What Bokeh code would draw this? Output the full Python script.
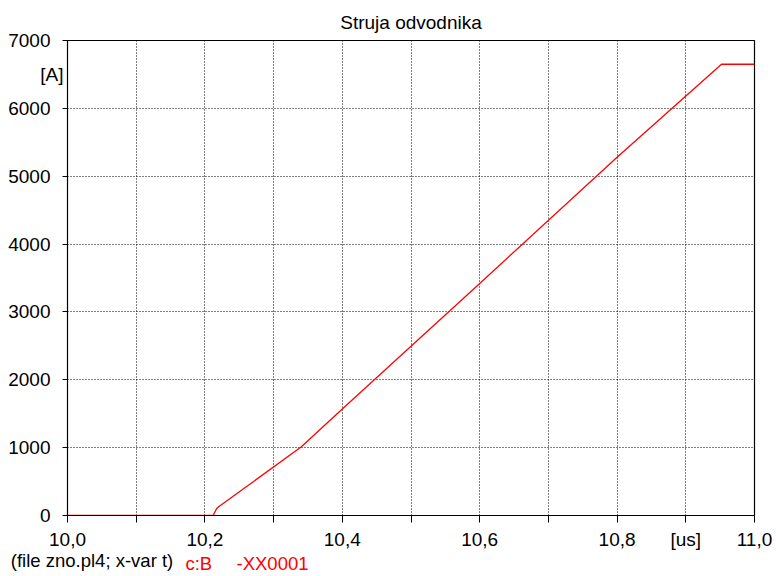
from bokeh.plotting import figure
from bokeh.models import FixedTicker, LinearAxis, ColumnDataSource
from bokeh.embed import file_html
from bokeh.resources import INLINE

# Arrester current vs time
t_us = [10.0, 10.212, 10.217, 10.220, 10.223, 10.34, 10.4, 10.6, 10.8, 10.952, 11.0]
i_a = [0, 0, 100, 130, 150, 1010, 1570, 3420, 5280, 6650, 6650]

x_ticks = [10.0, 10.1, 10.2, 10.3, 10.4, 10.5, 10.6, 10.7, 10.8, 10.9, 11.0]
x_tick_labels = ["10,0", "", "10,2", "", "10,4", "", "10,6", "", "10,8", "[us]", "11,0"]
y_ticks = [0, 1000, 2000, 3000, 4000, 5000, 6000, 7000]
y_tick_labels = ["0", "1000", "2000", "3000", "4000", "5000", "6000", "7000"]

# unit label of the current axis and the footer texts (anchored on the time axis)
y_unit_pos = [6500]
y_unit_text = ["[A]"]
foot_black_pos = [10.0357]
foot_black_text = ["(file zno.pl4; x-var t)"]
foot_red_pos = [10.1912, 10.2984]
foot_red_text = ["c:B", "-XX0001"]

FONT = "Liberation Sans"

p = figure(width=776, height=576, output_backend="svg", toolbar_location=None,
           x_range=(10.0, 11.0), y_range=(0, 7000),
           min_border_left=67, min_border_right=22, min_border_top=40, min_border_bottom=60)

p.title.text = "Struja odvodnika"
p.title.align = "center"
p.title.text_font = FONT
p.title.text_font_size = "19px"
p.title.text_font_style = "normal"
p.title.text_color = "black"
p.title.standoff = 16

p.background_fill_color = "white"
p.border_fill_color = "white"
p.outline_line_color = "black"
p.outline_line_width = 1.2

src = ColumnDataSource(data=dict(t=t_us, i=i_a))
p.line("t", "i", source=src, line_color="red", line_width=1.3)

for ax in (p.xaxis[0], p.yaxis[0]):
    ax.axis_line_color = "black"
    ax.major_tick_line_color = "black"
    ax.minor_tick_line_color = None
    ax.major_tick_in = 0
    ax.major_label_text_font = FONT
    ax.major_label_text_font_size = "19px"
    ax.major_label_text_color = "black"

p.xaxis.ticker = FixedTicker(ticks=x_ticks)
p.xaxis.major_label_overrides = {t: s for t, s in zip(x_ticks, x_tick_labels)}
p.xaxis.major_tick_out = 7
p.xaxis.major_label_standoff = 6

p.yaxis.ticker = FixedTicker(ticks=y_ticks)
p.yaxis.major_label_overrides = {t: s for t, s in zip(y_ticks, y_tick_labels)}
p.yaxis.major_tick_out = 5
p.yaxis.major_label_standoff = 12

p.xgrid.ticker = FixedTicker(ticks=x_ticks)
p.ygrid.ticker = FixedTicker(ticks=y_ticks)
for g in (p.xgrid[0], p.ygrid[0]):
    g.grid_line_color = "black"
    g.grid_line_dash = "1 2"
    g.grid_line_width = 1


def text_axis(ticks, texts, color, size, standoff):
    """A tick-less, line-less axis used only to place texts in the border."""
    ax = LinearAxis(ticker=FixedTicker(ticks=ticks),
                    major_label_overrides={t: s for t, s in zip(ticks, texts)})
    ax.axis_line_color = None
    ax.major_tick_line_color = None
    ax.minor_tick_line_color = None
    ax.major_tick_in = 0
    ax.major_tick_out = 0
    ax.major_label_standoff = standoff
    ax.major_label_text_font = FONT
    ax.major_label_text_font_size = size
    ax.major_label_text_color = color
    return ax


# "[A]" sits just left of the frame, overlapping the numeric label column
p.add_layout(text_axis(y_unit_pos, y_unit_text, "black", "19px", -58), "left")

# footer: "(file ...)" in black, curve identifier in red on the same line
p.add_layout(text_axis(foot_black_pos, foot_black_text, "black", "18.5px", -3), "below")
p.add_layout(text_axis(foot_red_pos, foot_red_text, "red", "18.5px", -21), "below")

open("out.html", "w").write(file_html(p, INLINE))
